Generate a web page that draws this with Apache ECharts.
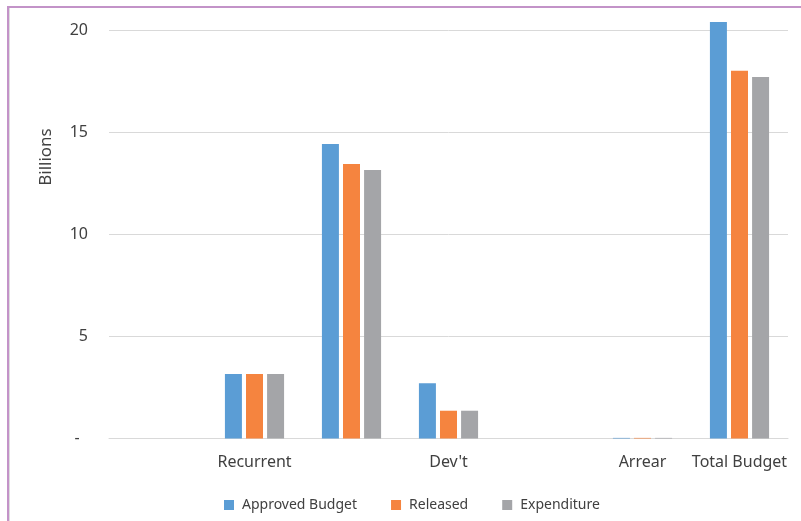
<!DOCTYPE html>
<html>
<head>
<meta charset="utf-8">
<script src="https://cdn.jsdelivr.net/npm/echarts@6/dist/echarts.min.js"></script>
<style>
  html, body { margin: 0; padding: 0; background: #fff; }
  #wrap { position: relative; width: 801px; height: 521px; overflow: hidden; }
  #chart { position: absolute; left: 0; top: 0; width: 801px; height: 521px; }
  #frame {
    position: absolute; left: 7px; top: 6px; width: 820px; height: 513px;
    border-top: 2px solid #c393c8; border-left: 2px solid #c393c8;
    border-bottom: 1px solid #ead5ec; pointer-events: none;
  }
  #frame::before {
    content: ''; position: absolute; left: 0; top: 0; bottom: 0;
    border-left: 1px solid #dedede;
  }
</style>
</head>
<body>
<div id="wrap">
  <div id="chart"></div>
  <div id="frame"></div>
</div>
<script>
// categories (blank slots are unlabeled in the source chart)
var categories = ['', 'Recurrent', '', "Dev't", '', 'Arrear', 'Total Budget']
var approved = [0, 3.16, 14.42, 2.70, 0, 0.03, 20.39]
var released = [0, 3.16, 13.44, 1.36, 0, 0.03, 18.0]
var expenditure = [0, 3.16, 13.14, 1.36, 0, 0.03, 17.7]
var seriesNames = ['Approved Budget', 'Released', 'Expenditure']
var colors = ['#5b9dd5', '#f5843f', '#a4a5a8']

var font = 'Noto Sans'
var textColor = '#404040'

var chart = echarts.init(document.getElementById('chart'))

function makeSeries(name, data, color) {
  return {
    name: name,
    type: 'bar',
    data: data,
    barWidth: 17,
    barGap: '24%',
    clip: false,
    itemStyle: { color: color },
    emphasis: { disabled: true }
  }
}

chart.setOption({
  animation: false,
  color: colors,
  textStyle: { fontFamily: font },
  grid: { left: 109, right: 13, top: 30, bottom: 82.5, containLabel: false },
  legend: {
    left: 219,
    top: 493,
    itemWidth: 10,
    itemHeight: 10,
    itemGap: 34,
    icon: 'rect',
    textStyle: { color: textColor, fontSize: 14, fontFamily: font, padding: [0, 0, 0, 3] },
    data: seriesNames
  },
  graphic: [
    {
      type: 'text',
      x: 46,
      y: 157,
      rotation: Math.PI / 2,
      style: {
        text: 'Billions',
        fill: textColor,
        font: '17px "Noto Sans"',
        textAlign: 'center',
        textVerticalAlign: 'middle'
      }
    }
  ],
  xAxis: {
    type: 'category',
    data: categories,
    axisLine: { lineStyle: { color: '#d9d9d9', width: 1 } },
    axisTick: { show: false },
    axisLabel: { color: textColor, fontSize: 16, margin: 16, interval: 0 }
  },
  yAxis: {
    type: 'value',
    min: 0,
    max: 20,
    interval: 5,
    axisLine: { show: false },
    axisTick: { show: false },
    splitLine: { lineStyle: { color: '#d9d9d9', width: 1 } },
    axisLabel: {
      color: textColor,
      fontSize: 16,
      margin: 21,
      formatter: function(v) { return v === 0 ? '-  ' : String(v) }
    }
  },
  series: [
    makeSeries(seriesNames[0], approved, colors[0]),
    makeSeries(seriesNames[1], released, colors[1]),
    makeSeries(seriesNames[2], expenditure, colors[2])
  ]
})
</script>
</body>
</html>
